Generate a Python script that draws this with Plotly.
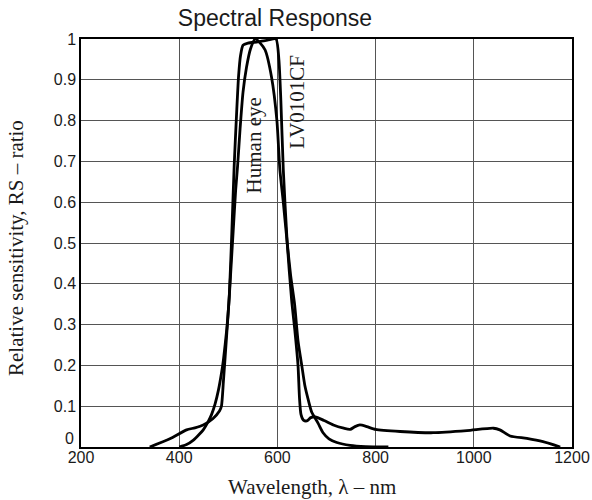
import plotly.graph_objects as go

# Human eye (photopic) response
eye_nm = [400, 415, 429, 440, 449, 459, 466, 473, 480, 486, 490, 497, 501, 505, 510, 515, 519, 524, 530, 537, 545, 555,
          565, 575, 588, 599, 605, 612, 620, 627, 635, 642, 650, 656, 663, 670, 683, 693, 705, 721, 748, 780, 826]
eye_rs = [0.0, 0.006, 0.017, 0.03, 0.042, 0.062, 0.08, 0.105, 0.14, 0.18, 0.213, 0.29, 0.35, 0.43, 0.53, 0.63, 0.69, 0.78, 0.87, 0.93, 0.975, 1.0,
          0.99, 0.973, 0.907, 0.80, 0.68, 0.60, 0.50, 0.42, 0.35, 0.26, 0.197, 0.15, 0.115, 0.085, 0.058, 0.035, 0.02, 0.011, 0.004, 0.001, 0.0]

# LV0101CF sensor response
lv_nm = [340, 381, 415, 432, 449, 469, 482, 486, 490, 497, 502, 507, 512, 517, 521, 525, 530, 540, 560, 580, 597,
         603, 607, 612, 620, 629, 636, 642, 645, 648, 653, 660, 668, 677, 695, 714, 735, 748, 758, 768, 782, 800, 850,
         917, 986, 1040, 1053, 1074, 1108, 1141, 1176]
lv_rs = [0.0, 0.02, 0.042, 0.047, 0.054, 0.07, 0.088, 0.10, 0.16, 0.28, 0.37, 0.52, 0.69, 0.82, 0.91, 0.96, 0.985, 0.99, 0.993, 0.997, 1.0,
         0.95, 0.85, 0.68, 0.50, 0.36, 0.28, 0.20, 0.12, 0.08, 0.066, 0.064, 0.072, 0.074, 0.065, 0.054, 0.046, 0.043, 0.05, 0.054, 0.05, 0.043, 0.038,
         0.035, 0.04, 0.046, 0.042, 0.027, 0.021, 0.013, 0.0]

x_ticks = [200, 400, 600, 800, 1000, 1200]
y_ticks = [0, 0.1, 0.2, 0.3, 0.4, 0.5, 0.6, 0.7, 0.8, 0.9, 1]
y_tick_text = ["0", "0.1", "0.2", "0.3", "0.4", "0.5", "0.6", "0.7", "0.8", "0.9", "1"]

W, H = 592, 500
L, R, T, B = 81, 20, 39, 53
PW, PH = W - L - R, H - T - B


def px_x(p):
    return (p - L) / PW


def px_y(p):
    return (H - B - p) / PH


fig = go.Figure()
fig.add_trace(go.Scatter(x=eye_nm, y=eye_rs, mode="lines", name="Human eye",
                         line=dict(color="black", width=2.8, shape="spline", smoothing=0.6)))
fig.add_trace(go.Scatter(x=lv_nm, y=lv_rs, mode="lines", name="LV0101CF",
                         line=dict(color="black", width=2.8, shape="spline", smoothing=0.6)))

serif = "Liberation Serif, Times New Roman, serif"
sans = "Liberation Sans, Arial, sans-serif"
txt = "#1a1a1a"

fig.update_layout(
    width=W, height=H,
    margin=dict(l=L, r=R, t=T, b=B, autoexpand=False),
    paper_bgcolor="white", plot_bgcolor="white",
    showlegend=False,
    title=dict(text="Spectral Response", font=dict(family=sans, size=23, color=txt),
               xref="paper", x=px_x(275), xanchor="center", yref="container", y=1 - 18 / H, yanchor="middle"),
    font=dict(family=sans, size=16, color=txt),
)
fig.update_xaxes(range=[200, 1200], tickvals=x_ticks, showgrid=True, gridcolor="#555", gridwidth=1,
                 showline=True, linecolor="black", linewidth=1.5, mirror=True, ticks="", zeroline=False,
                 automargin=False, ticklabelstandoff=-5,
                 tickfont=dict(family=sans, size=16, color=txt))
fig.update_yaxes(range=[0, 1], tickvals=y_ticks[1:], ticktext=y_tick_text[1:], showgrid=True, gridcolor="#555", gridwidth=1,
                 showline=True, linecolor="black", linewidth=1.5, mirror=True, ticks="", zeroline=False,
                 automargin=False,
                 tickfont=dict(family=sans, size=16, color=txt))

# zero label on y axis, lifted slightly as in the reference
fig.add_annotation(text=y_tick_text[0], x=px_x(76), y=px_y(438), xref="paper", yref="paper",
                   xanchor="right", yanchor="middle", showarrow=False,
                   font=dict(family=sans, size=16, color=txt))

fig.add_annotation(text="Human eye", x=553, y=0.74, xref="x", yref="y", textangle=-90, showarrow=False,
                   font=dict(family=serif, size=21, color=txt))
fig.add_annotation(text="LV0101CF", x=641, y=0.845, xref="x", yref="y", textangle=-90, showarrow=False,
                   font=dict(family=serif, size=21, color=txt))
fig.add_annotation(text="Relative sensitivity, RS \u2013 ratio", x=px_x(16), y=px_y(248), xref="paper", yref="paper",
                   xanchor="center", yanchor="middle", textangle=-90, showarrow=False,
                   font=dict(family=serif, size=21, color=txt))
fig.add_annotation(text="Wavelength, \u03bb \u2013 nm", x=px_x(312), y=px_y(487), xref="paper", yref="paper",
                   xanchor="center", yanchor="middle", showarrow=False,
                   font=dict(family=serif, size=21, color=txt))

fig.write_html("out.html")
